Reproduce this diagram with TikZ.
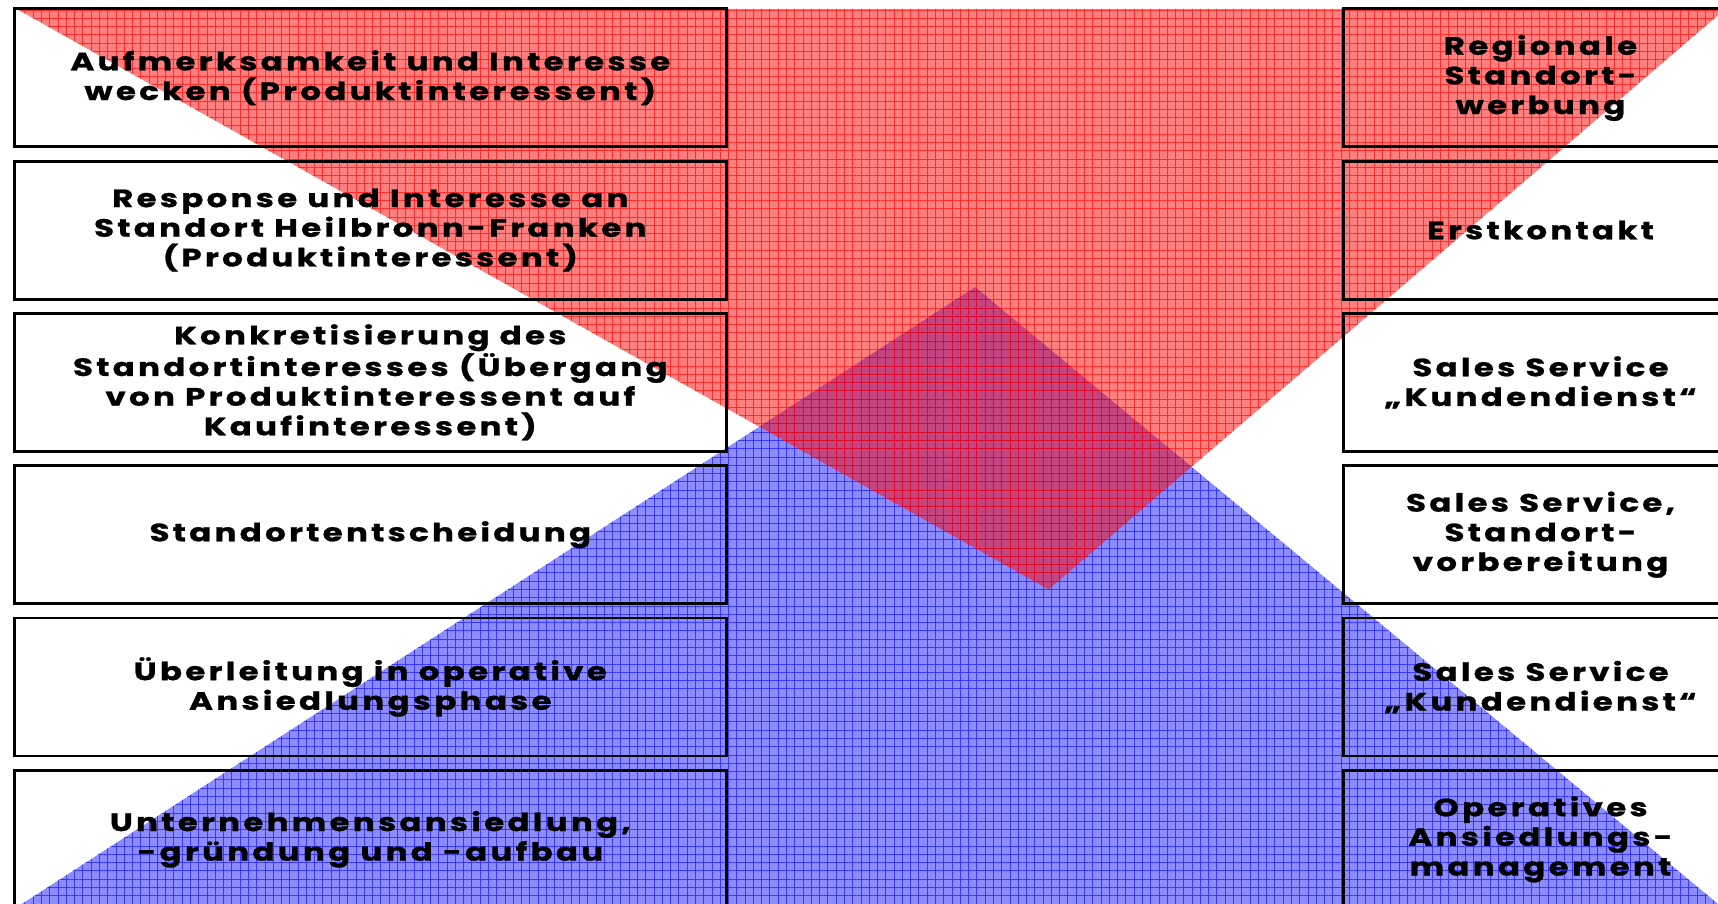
\documentclass[tikz,border=0pt]{standalone}
\usepackage{fontspec}
\setmainfont{Poppins}[FakeStretch=1.3,LetterSpace=13,BoldFeatures={FakeBold=1}]
\usetikzlibrary{patterns.meta}
\definecolor{lightred}{RGB}{255,0,0}
\definecolor{lightblue}{RGB}{140,140,255}
\tikzstyle{phasebox}=[draw=black,line width=1.5pt,inner sep=0pt,
                      minimum height=2.52cm,align=center,
                      font=\bfseries\fontsize{13}{15.4}\selectfont]
\tikzstyle{leftbox}=[phasebox,minimum width=13cm]
\tikzstyle{rightbox}=[phasebox,minimum width=7.2cm]
\tikzstyle{redarea}=[fill=lightred,fill opacity=0.5]
\tikzstyle{bluearea}=[fill=lightblue]

\begin{document}
\begin{tikzpicture}[x=0.02cm,y=-0.02cm]
    \useasboundingbox (0,0) rectangle (1568,825);
    \clip (0,0) rectangle (1568,825);
    \coordinate (b1) at (890,262);
    \coordinate (b2) at (20,825);
    \coordinate (b3) at (1568,825);
    \coordinate (a1) at (15,8);
    \coordinate (a2) at (1575,8);
    \coordinate (a3) at (957,538);
    \fill[bluearea] (b1) -- (b2) -- (b3) -- cycle;
    \path[pattern={Hatch[distance=4.3pt,line width=0.35pt]},pattern color=blue,opacity=0.6]
        (b1) -- (b2) -- (b3) -- cycle;
    \fill[redarea] (a1) -- (a2) -- (a3) -- cycle;
    \path[pattern={Hatch[distance=4.3pt,line width=0.35pt]},pattern color=red,opacity=0.65]
        (a1) -- (a2) -- (a3) -- cycle;
    \node (l1) at (338,71)  [leftbox]{Aufmerksamkeit und Interesse\\wecken (Produktinteressent)};
    \node (l2) at (338,210) [leftbox]{Response und Interesse an\\Standort Heilbronn-Franken\\(Produktinteressent)};
    \node (l3) at (338,349) [leftbox]{Konkretisierung des\\Standortinteresses (Übergang\\von Produktinteressent auf\\Kaufinteressent)};
    \node (l4) at (338,488) [leftbox]{Standortentscheidung};
    \node (l5) at (338,627) [leftbox]{Überleitung in operative\\Ansiedlungsphase};
    \node (l6) at (338,766) [leftbox]{Unternehmensansiedlung,\\-gründung und -aufbau};
    \node (r1) at (1406,71)  [rightbox]{Regionale\\Standort-\\werbung};
    \node (r2) at (1406,210) [rightbox]{Erstkontakt};
    \node (r3) at (1406,349) [rightbox]{Sales Service\\„Kundendienst“};
    \node (r4) at (1406,488) [rightbox]{Sales Service,\\Standort-\\vorbereitung};
    \node (r5) at (1406,627) [rightbox]{Sales Service\\„Kundendienst“};
    \node (r6) at (1406,766) [rightbox]{Operatives\\Ansiedlungs-\\management};
\end{tikzpicture}
\end{document}
